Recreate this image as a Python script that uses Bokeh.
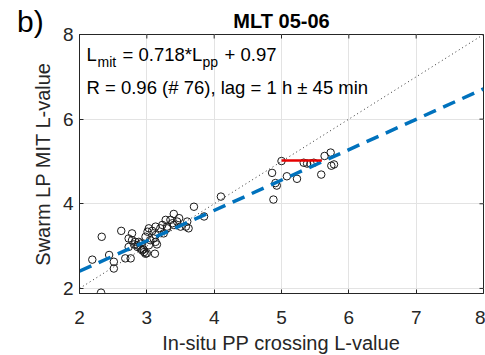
from bokeh.plotting import figure
from bokeh.models import Range1d, Label, FixedTicker, ColumnDataSource, Div
from bokeh.layouts import column
from bokeh.embed import file_html
from bokeh.resources import INLINE

# ---- data ----
L_pp = [2.32, 2.19, 2.33, 2.44, 2.51, 2.51, 2.62, 2.68, 2.76, 2.73,
        2.78, 2.78, 2.73, 2.81, 2.86, 2.88, 2.91, 2.96, 2.98, 2.93,
        2.83, 2.91, 3.03, 3.01, 3.03, 3.08, 3.13, 3.12, 3.00, 3.15,
        3.05, 3.13, 3.13, 2.98, 3.23, 3.20, 3.25, 3.28, 3.30, 3.30,
        3.35, 3.40, 3.40, 3.38, 3.45, 3.48, 3.50, 3.58, 3.60, 3.62,
        3.70, 3.85, 4.10, 4.88, 4.86, 4.91, 4.93, 5.00, 5.08, 5.23,
        5.33, 5.38, 5.43, 5.48, 5.59, 5.64, 5.73, 5.74, 5.78, 2.86,
        2.95, 3.10]
L_mit = [1.90, 2.68, 3.22, 2.79, 2.63, 2.47, 3.36, 2.71, 2.71, 3.18,
         3.30, 3.14, 2.98, 3.04, 2.98, 3.10, 2.94, 2.86, 2.82, 2.90,
         3.10, 3.06, 3.02, 3.34, 3.42, 3.36, 3.46, 2.82, 2.83, 3.04,
         3.14, 3.10, 3.26, 3.22, 3.50, 3.42, 3.30, 3.62, 3.46, 3.42,
         3.62, 3.76, 3.50, 3.54, 3.58, 3.66, 3.46, 3.46, 3.58, 3.42,
         3.93, 3.70, 4.17, 4.10, 4.73, 4.49, 4.43, 5.01, 4.65, 4.59,
         4.97, 4.95, 4.95, 4.97, 4.69, 5.13, 5.21, 4.90, 4.93, 3.02,
         2.92, 3.18]

fit_slope = 0.718
fit_intercept = 0.97
fit_x = [2.0, 8.0]
fit_y = [fit_slope * v + fit_intercept for v in fit_x]
identity = [2.0, 8.0]
red_x = [5.0, 5.6]
red_y = [5.02, 5.02]

x_ticks = [2, 3, 4, 5, 6, 7, 8]
y_ticks = [2, 4, 6, 8]
X_MIN, X_MAX = 2.0, 8.0
Y_MIN, Y_MAX = 1.88, 8.0

title_text = "MLT 05-06"
panel_text = "b)"
x_label = "In-situ PP crossing L-value"
y_label = "Swarm LP MIT L-value"
row2_text = "R = 0.96 (# 76), lag = 1 h \u00b1 45 min"

FONT = "Liberation Sans"
DARK = "#262626"

W, H = 485, 355
BL, BR, BT, BB = 79, 2, 34, 62
FW, FH = W - BL - BR, H - BT - BB

p = figure(width=W, height=H, x_range=Range1d(X_MIN, X_MAX), y_range=Range1d(Y_MIN, Y_MAX),
           output_backend="svg", toolbar_location=None, title=title_text,
           min_border_left=BL, min_border_right=BR, min_border_top=BT, min_border_bottom=BB)
p.background_fill_color = "white"
p.border_fill_color = "white"
p.outline_line_color = DARK
p.outline_line_width = 1

p.title.align = "center"
p.title.text_font = FONT
p.title.text_font_size = "20px"
p.title.text_font_style = "bold"
p.title.text_color = "black"
p.title.standoff = 6

for ax in (p.xaxis[0], p.yaxis[0]):
    ax.major_tick_in = 4
    ax.major_tick_out = 0
    ax.minor_tick_in = 0
    ax.minor_tick_out = 0
    ax.axis_line_color = DARK
    ax.major_tick_line_color = DARK
    ax.major_label_text_color = DARK
    ax.major_label_text_font = FONT
    ax.major_label_text_font_size = "19px"
    ax.axis_label_text_font = FONT
    ax.axis_label_text_font_size = "20px"
    ax.axis_label_text_font_style = "normal"
    ax.axis_label_text_color = DARK

p.xaxis[0].ticker = FixedTicker(ticks=x_ticks)
p.yaxis[0].ticker = FixedTicker(ticks=y_ticks)
p.yaxis[0].axis_label = y_label
p.xaxis[0].major_label_standoff = 17
p.yaxis[0].major_label_standoff = 6
p.yaxis[0].axis_label_standoff = 6

p.xgrid.ticker = FixedTicker(ticks=x_ticks)
p.ygrid.ticker = FixedTicker(ticks=y_ticks)
p.xgrid.grid_line_color = "#e3e3e3"
p.ygrid.grid_line_color = "#e3e3e3"

# inward ticks on the top and right edges (box style)
TICK_PX = 4
dx = TICK_PX * (X_MAX - X_MIN) / FW
dy = TICK_PX * (Y_MAX - Y_MIN) / FH
p.segment(x0=x_ticks, y0=[Y_MAX] * len(x_ticks), x1=x_ticks, y1=[Y_MAX - dy] * len(x_ticks),
          line_color=DARK, line_width=1)
p.segment(x0=[X_MAX] * len(y_ticks), y0=y_ticks, x1=[X_MAX - dx] * len(y_ticks), y1=y_ticks,
          line_color=DARK, line_width=1)

src = ColumnDataSource(dict(x=L_pp, y=L_mit))
p.scatter("x", "y", source=src, marker="circle", size=7.5, fill_color=None,
          line_color="#1a1a1a", line_width=1)
p.line(identity, identity, line_color="#333333", line_width=1, line_dash="1 3")
p.line(fit_x, fit_y, line_color="#0072BD", line_width=3.5, line_dash="13 8")
p.line(red_x, red_y, line_color="#e60000", line_width=2.5)

# annotation texts inside the frame
def lab(x, y, t, size):
    p.add_layout(Label(x=x, y=y, text=t, text_font=FONT, text_font_size=size,
                       text_align="left", text_baseline="alphabetic", text_color="black"))

lab(2.104, 7.527, "L", "18.5px")
lab(2.267, 7.362, "mit", "14px")
lab(2.639, 7.527, "= 0.718*L", "18.5px")
lab(3.827, 7.362, "pp", "14px")
lab(4.154, 7.527, "+ 0.97", "18.5px")
lab(2.104, 6.748, row2_text, "18.5px")

# panel letter in the top-left corner and x-axis title under the tick labels
panel = Div(text='<div style="margin-left:17px">%s</div>' % panel_text,
            width=60, height=36, margin=(0, 0, 0, 0),
            styles={"position": "absolute", "left": "0px", "top": "7px",
                    "font-size": "30px", "font-family": FONT, "color": "black",
                    "line-height": "1", "z-index": "10"})
xtitle = Div(text='<div style="width:%dpx;margin-left:%dpx;text-align:center">%s</div>'
             % (FW, BL, x_label),
             width=W, height=20, margin=(0, 0, 0, 0),
             styles={"position": "absolute", "left": "0px", "top": "333px",
                     "font-size": "20px", "font-family": FONT, "color": DARK,
                     "line-height": "1", "z-index": "10"})

layout = column(p, panel, xtitle, spacing=0)
open("out.html", "w").write(file_html(layout, INLINE))
